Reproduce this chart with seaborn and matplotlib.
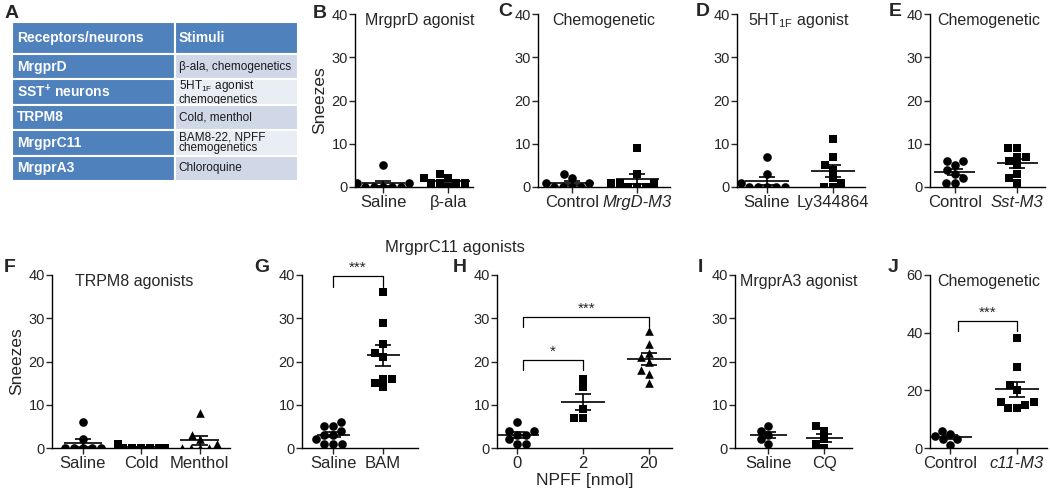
import numpy as np
import pandas as pd
import matplotlib
matplotlib.use("Agg")
import matplotlib.pyplot as plt
import seaborn as sns

# ---- panel A table ----
receptors = ["MrgprD", "SST$^{+}$ neurons", "TRPM8", "MrgprC11", "MrgprA3"]
stimuli = ["β-ala, chemogenetics", "5HT$_{1F}$ agonist\nchemogenetics", "Cold, menthol",
           "BAM8-22, NPFF\nchemogenetics", "Chloroquine"]

# ---- dot panels (sneezes per mouse) ----
b_groups = ["Saline", "β-ala"]
b_saline = [5, 1, 1, 0, 0, 0, 0, 0]
b_beta = [1, 1, 2, 3, 2, 1, 1, 0]

c_groups = ["Control", "MrgD-M3"]
c_control = [3, 0, 1, 2, 1, 0, 0, 0]
c_m3 = [9, 3, 1, 1, 1, 0, 0, 0]

d_groups = ["Saline", "Ly344864"]
d_saline = [7, 3, 1, 0, 0, 0, 0, 0]
d_ly = [0, 11, 7, 4, 2, 1, 5, 0]

e_groups = ["Control", "Sst-M3"]
e_control = [6, 1, 3, 1, 4, 5, 2, 6]
e_m3 = [1, 6, 9, 7, 5, 3, 9, 7, 2]

f_groups = ["Saline", "Cold", "Menthol"]
f_saline = [6, 2, 0, 0, 0, 0, 0]
f_cold = [1, 0, 0, 0, 0, 0, 0]
f_menthol = [8, 3, 2, 0, 1, 0, 0, 0]

g_groups = ["Saline", "BAM"]
g_saline = [5, 6, 5, 3, 4, 3, 1, 2, 1, 1]
g_bam = [36, 29, 24, 22, 21, 16, 14, 16, 15]

h_groups = ["0", "2", "20"]
h_0 = [4, 1, 3, 6, 2, 4, 1, 3]
h_2 = [16, 14, 9, 7, 7]
h_20 = [27, 24, 18, 17, 20, 22, 21, 15]

i_groups = ["Saline", "CQ"]
i_saline = [3, 5, 1, 2, 4]
i_cq = [5, 2, 0, 4, 1]

j_groups = ["Control", "c11-M3"]
j_control = [5, 3, 4, 1, 3, 6]
j_m3 = [38, 28, 22, 20, 16, 15, 14, 14, 16]

sns.set_style("ticks")
plt.rcParams["font.family"] = ["Liberation Sans", "DejaVu Sans"]
plt.rcParams["mathtext.default"] = "regular"
plt.rcParams["axes.linewidth"] = 1.0

W, H = 1050, 492
fig = plt.figure(figsize=(10.5, 4.92), dpi=100)


def px_axes(x0, x1, y0, y1):
    # pixel box -> figure fraction
    return fig.add_axes([x0 / W, 1 - y1 / H, (x1 - x0) / W, (y1 - y0) / H])


def dot_panel(ax, groups, values, markers, ymax, ystep, xlim, title=None, title_x=0.08):
    df = pd.DataFrame({"group": np.repeat(groups, [len(v) for v in values]),
                       "Sneezes": np.concatenate(values).astype(float)})
    for g, m in zip(groups, markers):
        sns.swarmplot(data=df[df["group"] == g], x="group", y="Sneezes", order=groups,
                      marker=m, color="black", size=6.2, ax=ax, warn_thresh=1)
    stats = df.groupby("group", sort=False)["Sneezes"].agg(["mean", "sem"])
    for i, g in enumerate(groups):
        mu, se = stats.loc[g, "mean"], stats.loc[g, "sem"]
        ax.hlines(mu, i - 0.33, i + 0.33, color="black", lw=1.2, zorder=4)
        ax.errorbar(i, mu, yerr=se, fmt="none", ecolor="black", elinewidth=1.2,
                    capsize=6, capthick=1.2, zorder=4)
    ax.set_ylim(0, ymax)
    ax.set_yticks(np.arange(0, ymax + 1, ystep))
    ax.set_xlim(*xlim)
    ax.set_xlabel("")
    ax.set_ylabel("")
    ax.tick_params(axis="y", labelsize=10.5, length=4, width=1, pad=1)
    ax.tick_params(axis="x", labelsize=12, length=4, width=1, pad=2)
    sns.despine(ax=ax)
    for s in ("left", "bottom"):
        ax.spines[s].set_color("black")
    if title:
        ax.text(title_x, 0.965, title, transform=ax.transAxes, fontsize=11.5,
                ha="left", va="center")


def bracket(ax, x0, x1, y, drop, text):
    ax.plot([x0, x0, x1, x1], [y - drop, y, y, y - drop], color="black", lw=0.9, clip_on=False)
    ax.text((x0 + x1) / 2, y + drop * 0.15, text, ha="center", va="bottom", fontsize=11,
            clip_on=False)


# ---- A: table ----
axA = px_axes(12, 298, 22, 181)
axA.axis("off")
cell_text = [["Receptors/neurons", "Stimuli"]] + [[r, s] for r, s in zip(receptors, stimuli)]
light = ["#D0D8E8", "#E9EDF4"]
colours = [["#4F81BD", "#4F81BD"]] + [["#4F81BD", light[k % 2]] for k in range(len(receptors))]
tab = axA.table(cellText=cell_text, cellColours=colours, colWidths=[0.57, 0.43],
                cellLoc="left", bbox=[0, 0, 1, 1])
tab.auto_set_font_size(False)
for (r, c), cell in tab.get_celld().items():
    cell.set_edgecolor("white")
    cell.set_linewidth(1.5)
    cell.set_height(0.2 if r == 0 else 0.16)
    cell.PAD = 0.03
    t = cell.get_text()
    if r == 0 or c == 0:
        t.set_color("white")
        t.set_fontweight("bold")
        t.set_fontsize(10)
    else:
        t.set_color("#1a1a1a")
        t.set_fontsize(8.5)
        t.set_linespacing(0.9)

# ---- top row ----
axB = px_axes(355, 473, 14, 187)
dot_panel(axB, b_groups, [b_saline, b_beta], ["o", "s"], 40, 10, (-0.43, 1.38),
          "MrgprD agonist", 0.085)
axB.set_ylabel("Sneezes", fontsize=12.5, labelpad=3)

axC = px_axes(538, 670, 14, 187)
dot_panel(axC, c_groups, [c_control, c_m3], ["o", "s"], 40, 10, (-0.52, 1.5),
          "Chemogenetic", 0.106)

axD = px_axes(737, 865, 14, 187)
dot_panel(axD, d_groups, [d_saline, d_ly], ["o", "s"], 40, 10, (-0.45, 1.48),
          "5HT$_{1F}$ agonist", 0.086)

axE = px_axes(930, 1045, 14, 187)
dot_panel(axE, e_groups, [e_control, e_m3], ["o", "s"], 40, 10, (-0.4, 1.45),
          "Chemogenetic", 0.06)

# ---- bottom row ----
axF = px_axes(52, 230, 275, 448)
dot_panel(axF, f_groups, [f_saline, f_cold, f_menthol], ["o", "s", "^"], 40, 10,
          (-0.53, 2.52), "TRPM8 agonists", 0.13)
axF.set_ylabel("Sneezes", fontsize=12.5, labelpad=3)

axG = px_axes(302, 418, 275, 448)
dot_panel(axG, g_groups, [g_saline, g_bam], ["o", "s"], 40, 10, (-0.62, 1.7))
bracket(axG, 0, 1, 39.7, 2.5, "***")

axH = px_axes(497, 672, 275, 448)
dot_panel(axH, h_groups, [h_0, h_2, h_20], ["o", "s", "^"], 40, 10, (-0.3, 2.35))
axH.set_xlabel("NPFF [nmol]", fontsize=12.5, labelpad=1)
bracket(axH, 0.1, 1, 20.3, 2.3, "*")
bracket(axH, 0.1, 2, 30.3, 2.3, "***")

axI = px_axes(735, 852, 275, 448)
dot_panel(axI, i_groups, [i_saline, i_cq], ["o", "s"], 40, 10, (-0.6, 1.5),
          "MrgprA3 agonist", 0.04)

axJ = px_axes(930, 1047, 275, 448)
dot_panel(axJ, j_groups, [j_control, j_m3], ["o", "s"], 60, 20, (-0.3, 1.45),
          "Chemogenetic", 0.06)
bracket(axJ, 0.12, 1, 44, 3.4, "***")

# italic genotype tick labels
for ax in (axC, axE, axJ):
    ax.get_xticklabels()[1].set_style("italic")

fig.text(455 / W, 1 - 247 / H, "MrgprC11 agonists", fontsize=12, ha="center", va="center")

letters = {"A": (12, 13), "B": (320, 14), "C": (505, 12), "D": (703, 12), "E": (895, 11),
           "F": (10, 268), "G": (262, 268), "H": (460, 268), "I": (700, 268), "J": (893, 268)}
for k, (x, y) in letters.items():
    fig.text(x / W, 1 - y / H, k, fontsize=14, fontweight="bold", ha="center", va="center")

fig.savefig("out.png", dpi=100)
